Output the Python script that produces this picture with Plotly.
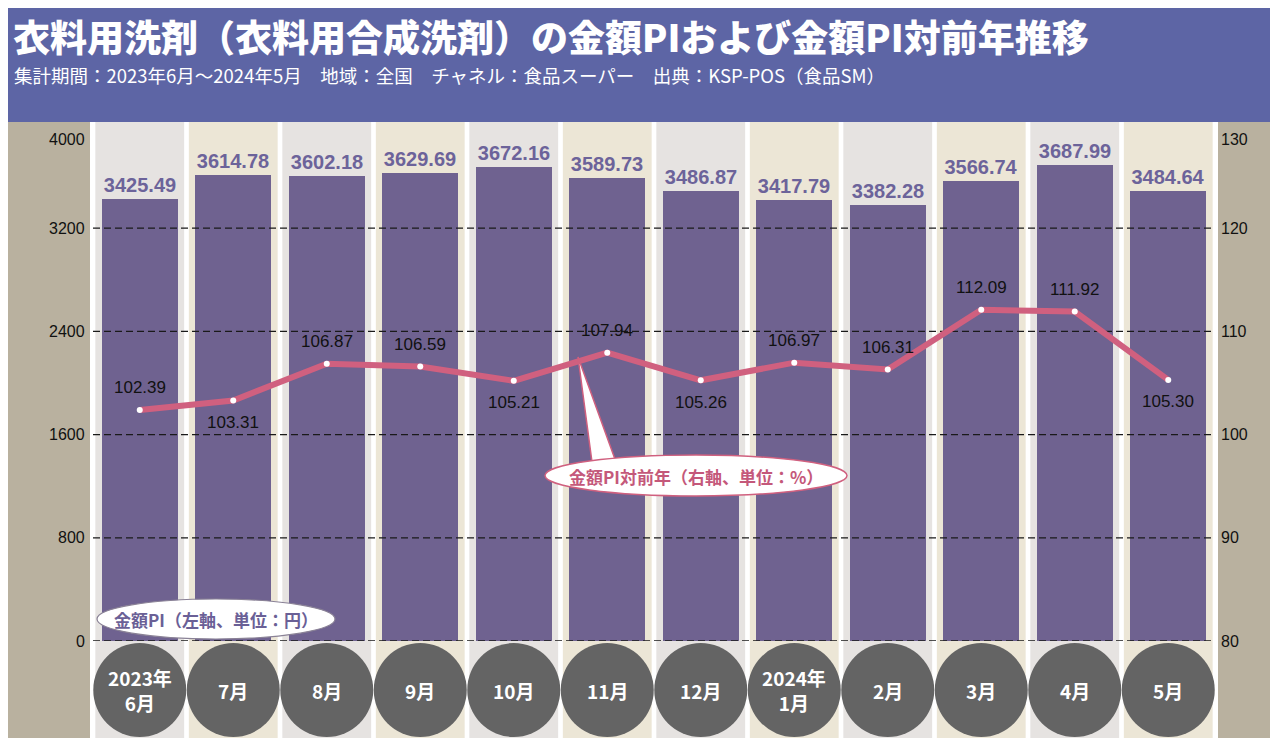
import plotly.graph_objects as go

# ---------------- data ----------------
months = ["2023年<br>6月", "7月", "8月", "9月", "10月", "11月", "12月",
          "2024年<br>1月", "2月", "3月", "4月", "5月"]
pi_values = [3425.49, 3614.78, 3602.18, 3629.69, 3672.16, 3589.73, 3486.87,
             3417.79, 3382.28, 3566.74, 3687.99, 3484.64]
yoy_values = [102.39, 103.31, 106.87, 106.59, 105.21, 107.94, 105.26,
              106.97, 106.31, 112.09, 111.92, 105.30]
yoy_label_above = [True, False, True, True, False, True, False,
                   True, True, True, True, False]
left_ticks = [0, 800, 1600, 2400, 3200, 4000]
right_ticks = [80, 90, 100, 110, 120, 130]

title = "衣料用洗剤（衣料用合成洗剤）の金額PIおよび金額PI対前年推移"
subtitle = "集計期間：2023年6月～2024年5月　地域：全国　チャネル：食品スーパー　出典：KSP-POS（食品SM）"
bar_legend = "金額PI（左軸、単位：円）"
line_legend = "金額PI対前年（右軸、単位：%）"

# ---------------- geometry / style ----------------
# page body has an 8px margin, so figure pixel = page pixel - 8
OFF = 8
W, H = 1264, 735
L, R, T, B = 93, 1215, 125, 641          # plot area in page pixels
def px(x):
    return (x - L) / (R - L)
def py(y):
    return (B - y) / (B - T)

JP = "Noto Sans CJK JP"
NUM = "Liberation Sans, Arial, sans-serif"
BAR_COLOR = "#6f6290"
BAR_TEXT = "#6c639a"
LINE_COLOR = "#d0607f"
HEADER = "#5d65a5"
BAND = "#b9b19f"
COL_A = "#e6e3e1"
COL_B = "#ece6d6"

n = len(months)
xs = list(range(n))

fig = go.Figure()

fig.add_trace(go.Bar(
    x=xs, y=pi_values, width=0.81, marker=dict(color=BAR_COLOR, line=dict(width=0)),
    text=[f"{v:.2f}" for v in pi_values], textposition="outside",
    textfont=dict(family=NUM, size=20, color=BAR_TEXT, weight="bold"),
    cliponaxis=False, yaxis="y", hoverinfo="skip"))

# dashed grid lines drawn above bars
for v in left_ticks[:-1]:
    fig.add_trace(go.Scatter(
        x=[-0.5, n - 0.5], y=[v, v], mode="lines", yaxis="y",
        line=dict(color="#1a1a1a", width=1.3, dash="7px,4px"),
        hoverinfo="skip", showlegend=False))

fig.add_trace(go.Scatter(
    x=xs, y=yoy_values, mode="lines+markers", yaxis="y2",
    line=dict(color=LINE_COLOR, width=6),
    marker=dict(color="white", size=6, line=dict(color=LINE_COLOR, width=0)),
    cliponaxis=False, hoverinfo="skip", showlegend=False))

shapes = []
# header band
shapes.append(dict(type="rect", xref="paper", yref="paper", layer="above",
                   x0=px(8), x1=px(1270), y0=py(122), y1=py(7),
                   fillcolor=HEADER, line=dict(width=0)))
# side bands
shapes.append(dict(type="rect", xref="paper", yref="paper", layer="below",
                   x0=px(8), x1=px(90), y0=py(738), y1=py(122),
                   fillcolor=BAND, line=dict(width=0)))
shapes.append(dict(type="rect", xref="paper", yref="paper", layer="below",
                   x0=px(1218), x1=px(1270), y0=py(738), y1=py(122),
                   fillcolor=BAND, line=dict(width=0)))
# column backgrounds
for i in xs:
    shapes.append(dict(type="rect", xref="x", yref="paper", layer="below",
                       x0=i - 0.475, x1=i + 0.475, y0=py(738), y1=py(122),
                       fillcolor=COL_A if i % 2 == 0 else COL_B, line=dict(width=0)))
# month circles
for i in xs:
    shapes.append(dict(type="circle", xref="x", yref="paper", layer="above",
                       xsizemode="pixel", ysizemode="pixel",
                       xanchor=i, yanchor=py(690),
                       x0=-46.5, x1=46.5, y0=-47, y1=47,
                       fillcolor="#646464", line=dict(width=0)))
# callout pointer for the line legend
shapes.append(dict(type="path", xref="paper", yref="paper", layer="above",
                   path=f"M {px(578)} {py(357)} L {px(592)} {py(462)} L {px(616)} {py(462)} Z",
                   fillcolor="white", line=dict(color=LINE_COLOR, width=1.5)))
# legend ellipses
shapes.append(dict(type="circle", xref="paper", yref="paper", layer="above",
                   x0=px(545), x1=px(847), y0=py(496), y1=py(455),
                   fillcolor="white", line=dict(color=LINE_COLOR, width=1.5)))
shapes.append(dict(type="circle", xref="paper", yref="paper", layer="above",
                   x0=px(97), x1=px(335), y0=py(639), y1=py(599),
                   fillcolor="white", line=dict(color="#8a8296", width=1.2)))

ann = []
ann.append(dict(text=title, xref="paper", yref="paper",
                x=px(11), y=py(36), xanchor="left", yanchor="middle", showarrow=False,
                font=dict(family=JP, size=37, color="white", weight=900)))
ann.append(dict(text=subtitle, xref="paper", yref="paper",
                x=px(12), y=py(75), xanchor="left", yanchor="middle", showarrow=False,
                font=dict(family=JP, size=18.5, color="white")))
for i, m in enumerate(months):
    ann.append(dict(text=f"<b>{m}</b>", xref="x", yref="paper", x=i, y=py(690),
                    xanchor="center", yanchor="middle", showarrow=False,
                    font=dict(family=JP, size=19, color="white")))
for i, (v, up) in enumerate(zip(yoy_values, yoy_label_above)):
    ann.append(dict(text=f"{v:.2f}", xref="x", yref="y2", x=i, y=v,
                    yshift=22 if up else -22, xanchor="center", yanchor="middle",
                    showarrow=False,
                    font=dict(family=NUM, size=17, color="#111111")))
for k, v in enumerate(left_ticks):
    top = k == len(left_ticks) - 1
    ann.append(dict(text=str(v), xref="paper", yref="y", x=px(87), y=v,
                    xanchor="right", yanchor="top" if top else "middle",
                    yshift=-4 if top else 0, showarrow=False,
                    font=dict(family=NUM, size=16, color="#111111")))
for k, v in enumerate(right_ticks):
    top = k == len(right_ticks) - 1
    ann.append(dict(text=str(v), xref="paper", yref="y2", x=px(1219), y=v,
                    xanchor="left", yanchor="top" if top else "middle",
                    yshift=-4 if top else 0, showarrow=False,
                    font=dict(family=NUM, size=16, color="#111111")))
ann.append(dict(text=f"<b>{line_legend}</b>", xref="paper", yref="paper",
                x=px(696), y=py(476), xanchor="center", yanchor="middle", showarrow=False,
                font=dict(family=JP, size=17, color="#c4587a")))
ann.append(dict(text=f"<b>{bar_legend}</b>", xref="paper", yref="paper",
                x=px(216), y=py(619), xanchor="center", yanchor="middle", showarrow=False,
                font=dict(family=JP, size=17, color="#6a6096")))

fig.update_layout(
    width=W, height=H,
    margin=dict(l=L - OFF, r=W - (R - OFF), t=T - OFF, b=H - (B - OFF)),
    paper_bgcolor="white", plot_bgcolor="rgba(0,0,0,0)",
    showlegend=False, bargap=0,
    xaxis=dict(range=[-0.5, n - 0.5], showticklabels=False, showgrid=False,
               zeroline=False, showline=False, fixedrange=True),
    yaxis=dict(range=[0, 4000], showticklabels=False, showgrid=False,
               zeroline=False, showline=False, tickvals=left_ticks),
    yaxis2=dict(range=[80, 130], overlaying="y", side="right", showticklabels=False,
                showgrid=False, zeroline=False, showline=False, tickvals=right_ticks),
    shapes=shapes, annotations=ann,
)

fig.write_html("out.html")
